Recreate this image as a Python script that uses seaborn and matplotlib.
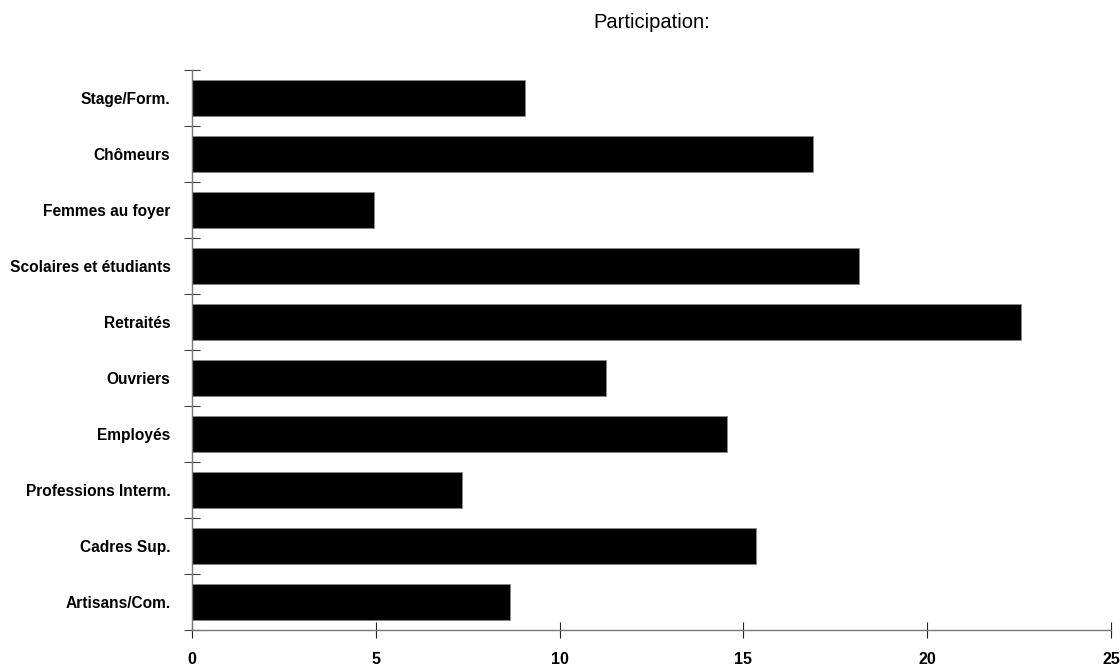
import numpy as np
import pandas as pd
import matplotlib.pyplot as plt
import seaborn as sns

categories = ["Stage/Form.", "Chômeurs", "Femmes au foyer", "Scolaires et étudiants",
              "Retraités", "Ouvriers", "Employés", "Professions Interm.",
              "Cadres Sup.", "Artisans/Com."]
values = [9.05, 16.9, 4.95, 18.15, 22.55, 11.25, 14.55, 7.35, 15.35, 8.65]
xticks = [0, 5, 10, 15, 20, 25]

sns.set_style("white")
plt.rcParams['font.family'] = ['Liberation Sans', 'DejaVu Sans']
plt.rcParams['text.color'] = 'black'
plt.rcParams['xtick.color'] = 'black'
plt.rcParams['ytick.color'] = 'black'

df = pd.DataFrame({"cat": categories, "val": values})

fig = plt.figure(figsize=(11.2, 6.67), dpi=100)
ax = fig.add_axes([0.1714, 0.0555, 0.8206, 0.8395])
sns.barplot(data=df, x="val", y="cat", orient="h", color="black", saturation=1,
            width=0.64, edgecolor="#888888", linewidth=0.6, ax=ax)

n = len(categories)
ax.set_xlim(0, 25)
ax.set_ylim(n - 0.5, -0.5)
ax.set_xticks(xticks)
ax.set_xticklabels([str(t) for t in xticks], fontweight="bold", fontsize=11.5)
ax.set_yticks(np.arange(-0.5, n), labels=[""] * (n + 1))
ax.set_yticks(np.arange(n), labels=categories, minor=True)
for lab in ax.get_yticklabels(minor=True):
    lab.set_fontweight("bold")
    lab.set_fontsize(11.2)

ax.tick_params(axis="y", which="major", left=True, direction="inout", length=11.5,
               width=0.8, color="#444444")
ax.tick_params(axis="y", which="minor", left=True, length=0, pad=15.5)
ax.tick_params(axis="x", which="major", bottom=True, direction="inout", length=12,
               width=0.8, color="#222222", pad=10)
ax.set_xlabel("")
ax.set_ylabel("")

for s in ["top", "right"]:
    ax.spines[s].set_visible(False)
for s in ["left", "bottom"]:
    ax.spines[s].set_color("#777777")
    ax.spines[s].set_linewidth(1.0)

fig.text(0.5817, 0.967, "Participation:", ha="center", va="center", fontsize=14.5)

fig.savefig("out.png", dpi=100)
